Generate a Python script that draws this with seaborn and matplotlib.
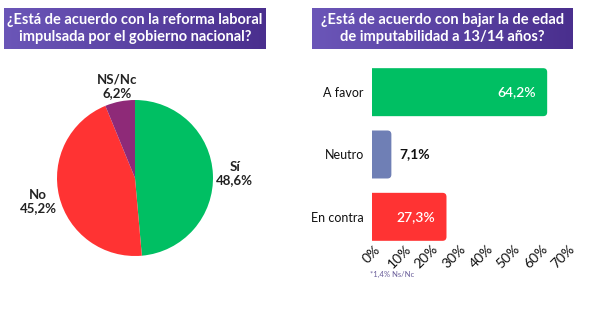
import numpy as np
import pandas as pd
import matplotlib
matplotlib.use("Agg")
import matplotlib.pyplot as plt
from matplotlib.patches import FancyBboxPatch
from matplotlib.colors import LinearSegmentedColormap
import seaborn as sns

# ---- data ----
pie_labels = ["Sí", "No", "NS/Nc"]
pie_values = [48.6, 45.2, 6.2]
pie_colors = ["#00BF63", "#FF3333", "#8E2A78"]

bar_categories = ["A favor", "Neutro", "En contra"]
bar_values = [64.2, 7.1, 27.3]
bar_colors = ["#00BF63", "#6F7FB5", "#FF3333"]
x_ticks = [0, 10, 20, 30, 40, 50, 60, 70]

title_left = "¿Está de acuerdo con la reforma laboral\nimpulsada por el gobierno nacional?"
title_right = "¿Está de acuerdo con bajar la de edad\nde imputabilidad a 13/14 años?"
footnote = "*1,4% Ns/Nc"

def fmt(v):
    return f"{v:.1f}".replace(".", ",") + "%"

sns.set_theme(style="white")
plt.rcParams["font.family"] = ["Lato", "DejaVu Sans"]

W, H = 600, 334
fig = plt.figure(figsize=(6, 3.34), dpi=100)
fig.patch.set_facecolor("white")

def px_axes(x0, y0, x1, y1):
    return fig.add_axes([x0 / W, 1 - y1 / H, (x1 - x0) / W, (y1 - y0) / H])

# ---- title boxes ----
cmap = LinearSegmentedColormap.from_list("pp", ["#6B56B8", "#4A2F8E"])
grad = np.linspace(0, 1, 256).reshape(1, -1)
for (x0, x1), txt in [((4, 266), title_left), ((312, 573), title_right)]:
    tax = px_axes(x0, 8, x1, 49)
    tax.imshow(grad, aspect="auto", cmap=cmap, extent=[0, 1, 0, 1])
    tax.set_axis_off()
    tax.text(0.5, 0.5, txt, color="white", ha="center", va="center",
             fontsize=10.5, fontweight="bold", linespacing=1.3,
             transform=tax.transAxes)

# ---- pie ----
pax = px_axes(57, 100, 213, 256)
wedges, texts = pax.pie(pie_values, colors=pie_colors, startangle=90,
                        counterclock=False,
                        labels=[f"{l}\n{fmt(v)}" for l, v in zip(pie_labels, pie_values)],
                        labeldistance=1.28,
                        textprops=dict(fontsize=9.5, fontweight="bold", color="#222222"),
                        wedgeprops=dict(linewidth=0))
for t in texts:
    t.set_ha("center")
    t.set_va("center")
    t.set_multialignment("center")
    t.set_linespacing(1.1)
# the small top slice's label sits a little closer to the pie
tx, ty = texts[2].get_position()
texts[2].set_position((tx * 1.2 / 1.28, ty * 1.2 / 1.28))
pax.set_xlim(-1, 1)
pax.set_ylim(-1, 1)
pax.set_aspect("equal")

# ---- bars ----
bax = px_axes(372, 61, 563, 243)
df = pd.DataFrame({"cat": bar_categories, "val": bar_values})
sns.barplot(data=df, x="val", y="cat", hue="cat", palette=bar_colors,
            legend=False, ax=bax, width=0.77, saturation=1, orient="h")
bax.set_xlim(x_ticks[0], x_ticks[-1])
bax.set_ylim(2.42, -0.5)

# rounded right corners
xpx = (563 - 372) / 70.0
ypx = (243 - 61) / 2.92
r = 4.0
rx = r / xpx
ry = r / ypx
for p in list(bax.patches):
    x, y = p.get_x(), p.get_y()
    w, h = p.get_width(), p.get_height()
    fc = p.get_facecolor()
    p.remove()
    fb = FancyBboxPatch((x - rx, y), w + rx, h,
                        boxstyle=f"round,pad=0,rounding_size={rx}",
                        mutation_aspect=ry / rx, facecolor=fc, edgecolor="none",
                        clip_on=True)
    bax.add_patch(fb)
    fb.set_clip_path(bax.patch)

for i, v in enumerate(bar_values):
    if v > 15:
        bax.annotate(fmt(v), (v, i), xytext=(-8, 0), textcoords="offset points",
                     ha="right", va="center", color="white", fontsize=10,
                     fontweight="semibold")
    else:
        bax.annotate(fmt(v), (v, i), xytext=(6, 0), textcoords="offset points",
                     ha="left", va="center", color="#111111", fontsize=10,
                     fontweight="bold")

bax.set_xticks(x_ticks)
bax.set_xticklabels([f"{t}%" for t in x_ticks], rotation=45, ha="center",
                    fontsize=10, color="#111111")
bax.tick_params(axis="x", length=0, pad=0)
bax.tick_params(axis="y", length=0, pad=6, labelsize=9, labelcolor="#111111")
bax.set_xlabel("")
bax.set_ylabel("")
for s in bax.spines.values():
    s.set_visible(False)
bax.set_facecolor("none")

fig.text(370 / W, 1 - 274 / H, footnote, fontsize=5.5, color="#6A5E9A",
         ha="left", va="center")

fig.savefig("out.png", dpi=100, facecolor="white")
